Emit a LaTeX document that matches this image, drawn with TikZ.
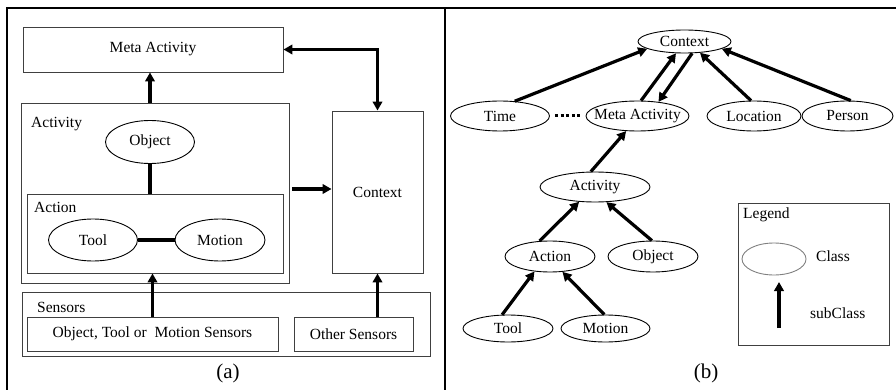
\documentclass[tikz,border=0pt]{standalone}
\usepackage{fontspec}
\setmainfont{Liberation Serif}
\usetikzlibrary{shapes.geometric,arrows.meta}
\newcommand{\nm}[1]{\makebox[0pt]{#1}}
\tikzset{
  box/.style={draw=black!75, line width=0.9pt, inner sep=0pt},
  cls/.style={ellipse, draw, line width=0.9pt, inner sep=0pt},
  arr/.style={line width=3.2pt, -{Triangle[length=9pt,width=9.5pt]}},
  darr/.style={line width=3.2pt, {Triangle[length=9pt,width=9.5pt]}-{Triangle[length=9pt,width=9.5pt]}},
  link/.style={line width=3.2pt},
  lbl/.style={anchor=west, inner sep=0pt},
}
\begin{document}
\begin{tikzpicture}[x=1pt, y=-1pt, font=\fontsize{15.5}{18}\selectfont]
      \useasboundingbox (0,0) rectangle (896,390);
      % frame
      \draw[line width=1.2pt] (7,390) -- (7,8) -- (896,8);
      \draw[line width=1.2pt] (445,8) -- (445,390);
      % (a)
      \draw
        (153,49.5) node[box, minimum width=260pt, minimum height=45pt] (ametabox){Meta Activity}
        (155,193) node[box, minimum width=268pt, minimum height=180pt] (aactbox){}
        (155,233.5) node[box, minimum width=256pt, minimum height=79pt] (aactionbox){}
        (226,324) node[box, minimum width=408pt, minimum height=64pt] (asensbox){}
        (152.5,334) node[box, minimum width=251pt, minimum height=34pt] (aotmbox){Object, Tool or\ \ Motion Sensors}
        (353.5,334) node[box, minimum width=119pt, minimum height=34pt] (aotherbox){Other Sensors}
        (377.5,192) node[box, minimum width=91pt, minimum height=162pt] (actxbox){Context}
        (31,124) node[lbl] (aactlbl){Activity}
        (34,207) node[lbl] (aactionlbl){Action}
        (37,307) node[lbl] (asenslbl){Sensors}
        (150,142) node[cls, minimum width=89pt, minimum height=43pt] (aobj){\nm{Object}}
        (93,240) node[cls, minimum width=89pt, minimum height=42pt] (atool){\nm{Tool}}
        (220,240) node[cls, minimum width=90pt, minimum height=42pt] (amotion){\nm{Motion}}
        (228,373) node[font=\fontsize{21}{24}\selectfont] (acap){(a)};
      \begin{scope}
        \draw[arr] (aobj |- aactbox.north) -- (aobj |- ametabox.south);
        \draw[link] (aobj.south) -- (aobj |- aactionbox.north);
        \draw[link] (atool.east) -- (amotion.west);
        \draw[arr] (aotmbox.north) -- (aotmbox.north |- aactionbox.south);
        \draw[arr] (aotherbox.north -| actxbox) -- (actxbox.south);
        \draw[arr] ([xshift=3pt,yshift=4pt]aactbox.east) -- (actxbox.west |- 0,189);
        \draw[darr] (ametabox.east) -| (actxbox.north);
      \end{scope}
      % (b)
      \draw
        (684.5,41.5) node[cls, minimum width=93pt, minimum height=23pt] (ctx){\nm{Context}}
        (500,116) node[cls, minimum width=99pt, minimum height=30pt] (time){\nm{Time}}
        (637.5,116) node[cls, minimum width=103pt, minimum height=30pt] (meta){\nm{Meta Activity}}
        (754,116) node[cls, minimum width=94pt, minimum height=30pt] (loc){\nm{Location}}
        (847.5,116) node[cls, minimum width=91pt, minimum height=30pt] (person){\nm{Person}}
        (595,187) node[cls, minimum width=110pt, minimum height=30pt] (act){\nm{Activity}}
        (550,256.5) node[cls, minimum width=90pt, minimum height=31pt] (action){\nm{Action}}
        (653,256.5) node[cls, minimum width=90pt, minimum height=31pt] (object){\nm{Object}}
        (508,328.5) node[cls, minimum width=90pt, minimum height=27pt] (tool){\nm{Tool}}
        (605.5,328.5) node[cls, minimum width=89pt, minimum height=27pt] (motion){\nm{Motion}}
        (813.5,274) node[box, minimum width=151pt, minimum height=142pt] (legend){}
        (743,215) node[lbl] (legendlbl){Legend}
        (774,259) node[cls, draw=black!50, minimum width=64pt, minimum height=32pt] (legendcls){}
        (816,256) node[lbl] (classlbl){Class}
        (810,313) node[lbl] (subclasslbl){subClass}
        (706,373) node[font=\fontsize{21}{24}\selectfont] (bcap){(b)};
      \coordinate (lgfrom) at (779,328);
      \coordinate (lgto) at (779,282);
      \begin{scope}
        \draw[arr] (time.45) -- (ctx.191);
        \draw[arr] (meta.77) -- (ctx.234);
        \draw[arr] (ctx.303) -- (meta.34);
        \draw[arr] (loc.101) -- (ctx.324);
        \draw[arr] (person.78) -- (ctx.349);
        \draw[line width=3pt, dash pattern=on 3pt off 2.6pt] ([xshift=5pt]time.east) -- ([xshift=-3pt]meta.west);
        \draw[arr] (act.105) -- (meta.233);
        \draw[arr] (action.124) -- (act.223);
        \draw[arr] (object.94) -- (act.307);
        \draw[arr] (tool.113) -- (action.224);
        \draw[arr] (motion.95) -- (action.309);
        \draw[arr] (lgfrom) -- (lgto);
      \end{scope}
    \end{tikzpicture}
\end{document}
